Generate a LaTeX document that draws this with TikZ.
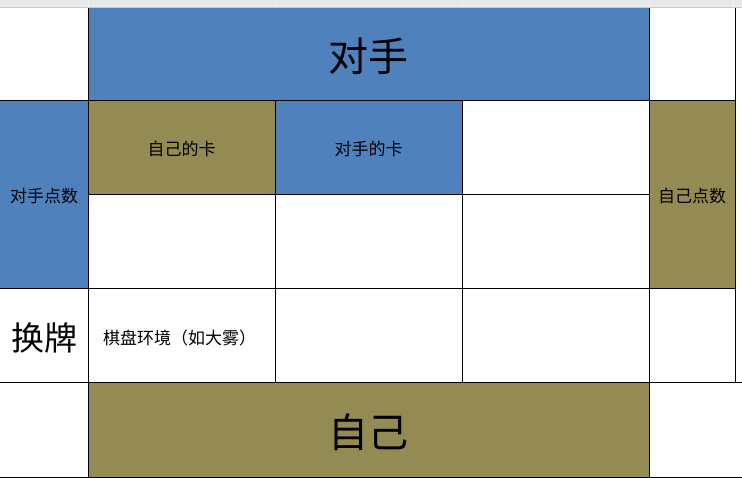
\documentclass[tikz,border=0pt]{standalone}
\usepackage{fontspec}
\newfontfamily\cjk{Noto Sans CJK SC}
\definecolor{oppblue}{HTML}{4F81BD}
\definecolor{selfolive}{HTML}{948A54}
\definecolor{sheetgrey}{HTML}{E8E8E8}
\tikzset{
  cell/.style={anchor=north west, inner sep=0pt, text depth=0pt, font=\cjk\fontsize{17}{17}\selectfont},
  bigcell/.style={cell, font=\cjk\fontsize{40}{40}\selectfont},
  grid/.style={black, line width=1pt}
}
\begin{document}
\begin{tikzpicture}[x=1pt, y=-1pt]
  \useasboundingbox (0,0) rectangle (742,478);
  % sheet header strip
  \fill[sheetgrey] (0,0) rectangle (742,7.5);
  \draw[gray!40] (0,7.5) -- (742,7.5);
  \foreach \x in {88,275,462,649,733}
    \draw[white!90!gray] (\x,0) -- (\x,7);

  % cells
  \node[bigcell, fill=oppblue, minimum width=561pt, minimum height=93pt] (opp) at (88,8) {对手};
  \node[cell, fill=oppblue, minimum width=88pt, minimum height=188pt] (opppts) at (0,101) {对手点数};
  \node[cell, fill=selfolive, minimum width=187pt, minimum height=94pt] (selfcard) at (88,101) {自己的卡};
  \node[cell, fill=oppblue, minimum width=187pt, minimum height=94pt] (oppcard) at (275,101) {对手的卡};
  \node[cell, fill=selfolive, minimum width=86pt, minimum height=188pt] (selfpts) at (649,101) {自己点数};
  \node[bigcell, font=\cjk\fontsize{33}{33}\selectfont, minimum width=88pt, minimum height=94pt] (swap) at (0,289) {换牌};
  \node[cell, anchor=west] (board) at (103,337) {棋盘环境（如大雾）};
  \node[bigcell, fill=selfolive, minimum width=561pt, minimum height=94pt] (self) at (88,383) {自己};

  % grid lines
  \draw[grid] (0,101) -- (735,101);
  \draw[grid] (88,195) -- (649,195);
  \draw[grid] (0,289) -- (735,289);
  \draw[grid] (0,383) -- (742,383);
  \draw[grid] (0,477) -- (742,477);
  \foreach \x in {88,649}
    \draw[grid] (\x,8) -- (\x,477);
  \foreach \x in {275,462}
    \draw[grid] (\x,101) -- (\x,383);
  \draw[grid] (735,8) -- (735,383);
\end{tikzpicture}
\end{document}
